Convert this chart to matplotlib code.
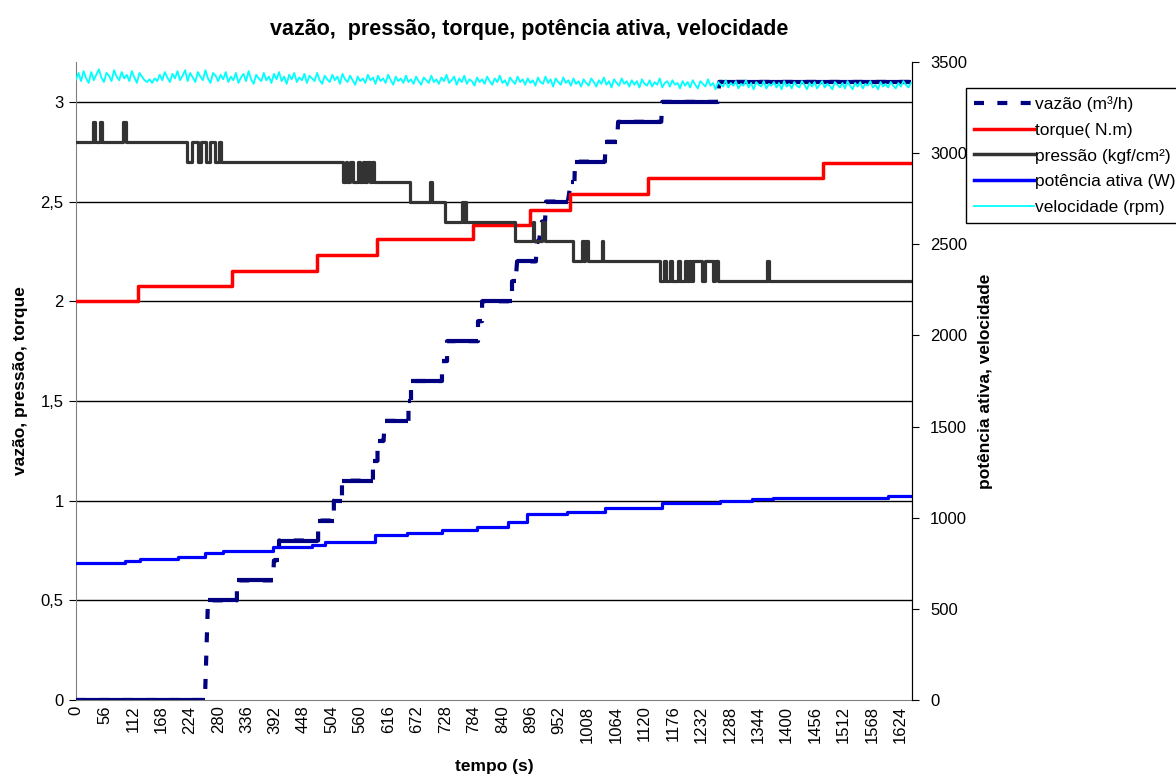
import numpy as np
import matplotlib
matplotlib.use('Agg')
import matplotlib.pyplot as plt
from matplotlib.lines import Line2D
from matplotlib.ticker import FuncFormatter

plt.rcParams['font.family'] = ['Liberation Sans', 'DejaVu Sans']

# vazão (m³/h): patamares (início, fim, valor) em segundos
vazao_ini = [0, 260, 317, 390, 400, 477, 508, 524, 585, 594,
             608, 655, 660, 721, 731, 792, 800, 859, 869, 908,
             918, 926, 975, 983, 1043, 1068, 1155, 1267]
vazao_fim = [254, 317, 388, 400, 477, 508, 524, 585, 594, 606,
             655, 660, 721, 731, 792, 800, 859, 866, 906, 912,
             924, 969, 982, 1042, 1066, 1153, 1265, 1645]
vazao_val = [0, 0.5, 0.6, 0.7, 0.8, 0.9, 1.0, 1.1, 1.2, 1.3,
             1.4, 1.5, 1.6, 1.7, 1.8, 1.9, 2.0, 2.1, 2.2, 2.3,
             2.4, 2.5, 2.6, 2.7, 2.8, 2.9, 3.0, 3.1]

# torque (N.m)
torque_t = [0, 122, 307, 475, 593, 782, 895, 973, 1127, 1472, 1647]
torque_v = [2.0, 2.074, 2.154, 2.23, 2.31, 2.383, 2.459, 2.537, 2.617, 2.693, 2.693]

# pressão (kgf/cm²)
pressao_t = [0, 34, 38, 47, 51, 93, 98, 219, 228, 241, 247, 257, 264, 274, 282, 286,
             526, 531, 533, 540, 545, 556, 560, 566, 570, 574, 580, 584, 588,
             658, 698, 701, 727, 761, 764, 766, 769, 865, 900, 903, 919, 923, 979,
             996, 1000, 1003, 1008, 1036, 1039,
             1151, 1158, 1162, 1170, 1174, 1186, 1190, 1200, 1203, 1208, 1211, 1216,
             1234, 1240, 1255, 1258, 1265,
             1362, 1366, 1647]
pressao_v = [2.8, 2.9, 2.8, 2.9, 2.8, 2.9, 2.8, 2.7, 2.8, 2.7, 2.8, 2.7, 2.8, 2.7, 2.8, 2.7,
             2.6, 2.7, 2.6, 2.7, 2.6, 2.7, 2.6, 2.7, 2.6, 2.7, 2.6, 2.7, 2.6,
             2.5, 2.6, 2.5, 2.4, 2.5, 2.4, 2.5, 2.4, 2.3, 2.4, 2.3, 2.4, 2.3, 2.2,
             2.3, 2.2, 2.3, 2.2, 2.3, 2.2,
             2.1, 2.2, 2.1, 2.2, 2.1, 2.2, 2.1, 2.2, 2.1, 2.2, 2.1, 2.2,
             2.1, 2.2, 2.1, 2.2, 2.1,
             2.2, 2.1, 2.1]

# potência ativa (W)
pot_t = [0, 97, 126, 201, 254, 290, 388, 465, 491, 589, 652, 721, 790, 851, 889,
         967, 1042, 1155, 1269, 1332, 1373, 1600, 1647]
pot_w = [750, 763, 772, 786, 805, 819, 838, 849, 868, 905, 918, 933, 951, 975, 1019,
         1033, 1055, 1079, 1092, 1101, 1107, 1119, 1119]

# velocidade (rpm), uma leitura a cada 5 s
vel_rpm = [
    3405, 3440, 3395, 3450, 3410, 3385, 3445, 3400, 3430, 3460, 3415, 3390, 3440, 3425, 3395, 3455, 3420, 3400, 3445, 3410,
    3430, 3395, 3450, 3415, 3385, 3440, 3420, 3400, 3390, 3405, 3385, 3410, 3395, 3430, 3400, 3445, 3415, 3390, 3435, 3410,
    3450, 3400, 3425, 3455, 3395, 3440, 3415, 3390, 3445, 3420, 3400, 3455, 3410, 3385, 3440, 3425, 3395, 3430, 3405, 3445,
    3390, 3420, 3400, 3440, 3385, 3415, 3435, 3395, 3450, 3405, 3380, 3430, 3410, 3395, 3440, 3400, 3420, 3385, 3435, 3405,
    3445, 3395, 3420, 3380, 3430, 3405, 3440, 3390, 3415, 3400, 3435, 3385, 3425, 3410, 3395, 3440, 3400, 3380, 3425, 3405,
    3390, 3430, 3400, 3420, 3380, 3435, 3405, 3390, 3425, 3400, 3375, 3420, 3395, 3410, 3385, 3430, 3400, 3415, 3380, 3425,
    3395, 3410, 3385, 3430, 3400, 3375, 3420, 3395, 3410, 3385, 3425, 3390, 3405, 3380, 3420, 3395, 3375, 3415, 3400, 3385,
    3425, 3390, 3405, 3380, 3415, 3395, 3430, 3385, 3400, 3420, 3375, 3410, 3390, 3425, 3380, 3405, 3395, 3370, 3415, 3390,
    3405, 3380, 3420, 3395, 3375, 3410, 3390, 3425, 3385, 3400, 3370, 3415, 3395, 3380, 3420, 3390, 3405, 3375, 3410, 3385,
    3400, 3370, 3415, 3390, 3380, 3420, 3385, 3405, 3365, 3410, 3390, 3375, 3415, 3385, 3400, 3370, 3410, 3380, 3395, 3365,
    3405, 3385, 3370, 3410, 3390, 3365, 3400, 3380, 3415, 3375, 3395, 3360, 3405, 3385, 3370, 3410, 3380, 3395, 3365, 3400,
    3375, 3395, 3360, 3405, 3380, 3370, 3400, 3365, 3390, 3375, 3410, 3360, 3385, 3395, 3365, 3400, 3375, 3385, 3355, 3395,
    3370, 3390, 3360, 3400, 3375, 3355, 3395, 3380, 3365, 3405, 3370, 3385, 3350, 3390, 3375, 3365, 3400, 3360, 3385, 3370,
    3395, 3355, 3380, 3370, 3400, 3360, 3385, 3350, 3390, 3375, 3365, 3395, 3355, 3380, 3370, 3390, 3360, 3385, 3350, 3395,
    3365, 3380, 3355, 3390, 3370, 3360, 3395, 3375, 3350, 3385, 3365, 3390, 3355, 3375, 3395, 3360, 3380, 3370, 3350, 3390,
    3375, 3360, 3385, 3355, 3395, 3370, 3350, 3385, 3365, 3390, 3355, 3380, 3370, 3395, 3360, 3375, 3350, 3390, 3365, 3380,
    3360, 3390, 3370, 3355, 3385, 3365, 3395, 3375, 3360, 3385,
]
vel_t = np.arange(len(vel_rpm)) * 5

x_ticks = np.arange(0, 1625, 56)

navy = '#000080'
cinza = '#333333'

fig = plt.figure(figsize=(11.76, 7.8), dpi=100)
ax = fig.add_axes([76 / 1176, 1 - 700 / 780, 836 / 1176, 638 / 780])
ax2 = ax.twinx()

# vazão: patamares cheios, transições tracejadas
pts_t, pts_v = [], []
for a, b, v in zip(vazao_ini, vazao_fim, vazao_val):
    pts_t += [a, b]
    pts_v += [v, v]
ax.plot(pts_t, pts_v, color=navy, lw=3, ls=(0, (2.4, 3.2)), dash_capstyle='butt', zorder=3)
ax.hlines(vazao_val, vazao_ini, vazao_fim, color=navy, lw=3, zorder=3)

ax.plot(torque_t, torque_v, drawstyle='steps-post', color='red', lw=2.5, zorder=4)
ax.plot(pressao_t, pressao_v, drawstyle='steps-post', color=cinza, lw=2.3, zorder=4)

ax2.plot(pot_t, pot_w, drawstyle='steps-post', color='#0000ff', lw=2.3)
ax2.plot(vel_t, vel_rpm, color='#00ffff', lw=1.3)

ax.set_xlim(0, 1647)
ax.set_ylim(0, 3.2)
ax2.set_ylim(0, 3500)
ax.set_yticks(np.arange(0, 3.01, 0.5))
ax2.set_yticks(np.arange(0, 3501, 500))
ax.yaxis.set_major_formatter(FuncFormatter(lambda v, p: ('%g' % v).replace('.', ',')))
ax.set_xticks(x_ticks)
ax.set_xticklabels([str(t) for t in x_ticks], rotation=90)

ax.yaxis.grid(True, color='black', lw=1)
ax.get_ygridlines()[0].set_visible(False)
ax.set_axisbelow(True)

for a in (ax, ax2):
    a.spines['top'].set_visible(False)
ax.spines['left'].set_color('#808080')
ax.spines['bottom'].set_color('#808080')
ax2.spines['left'].set_visible(False)
ax2.spines['bottom'].set_visible(False)
ax2.spines['right'].set_color('black')

ax.tick_params(axis='x', length=0, pad=4, labelsize=12)
ax.tick_params(axis='y', length=5, color='black', labelsize=12, pad=4)
ax2.tick_params(axis='y', length=5, color='black', labelsize=12, pad=8)

ax.set_xlabel('tempo (s)', fontsize=12.5, fontweight='bold')
ax.xaxis.set_label_coords(0.5, -0.092)
ax.set_ylabel('vazão, pressão, torque', fontsize=12.5, fontweight='bold')
ax.yaxis.set_label_coords(-0.057, 0.5)
ax2.set_ylabel('potência ativa, velocidade', fontsize=12.5, fontweight='bold')
ax2.yaxis.set_label_coords(1.079, 0.5)

fig.text(529 / 1176, 1 - 30 / 780, 'vazão,  pressão, torque, potência ativa, velocidade',
         ha='center', va='center', fontsize=15.5, fontweight='bold')

handles = [
    Line2D([], [], color=navy, lw=3, ls=(0, (2.4, 3.2))),
    Line2D([], [], color='red', lw=2.5),
    Line2D([], [], color=cinza, lw=2.5),
    Line2D([], [], color='#0000ff', lw=2.5),
    Line2D([], [], color='#00ffff', lw=1.3),
]
labels = ['vazão (m³/h)', 'torque( N.m)', 'pressão (kgf/cm²)', 'potência ativa (W)', 'velocidade (rpm)']
leg = fig.legend(handles, labels, loc='upper left', bbox_to_anchor=(966 / 1176, 1 - 88 / 780),
                 fontsize=12.5, handlelength=3.45, handletextpad=0.05, labelspacing=0.62,
                 borderpad=0.45, borderaxespad=0, fancybox=False, framealpha=1,
                 edgecolor='black')
leg.get_frame().set_linewidth(1)

fig.savefig('out.png', dpi=100)
